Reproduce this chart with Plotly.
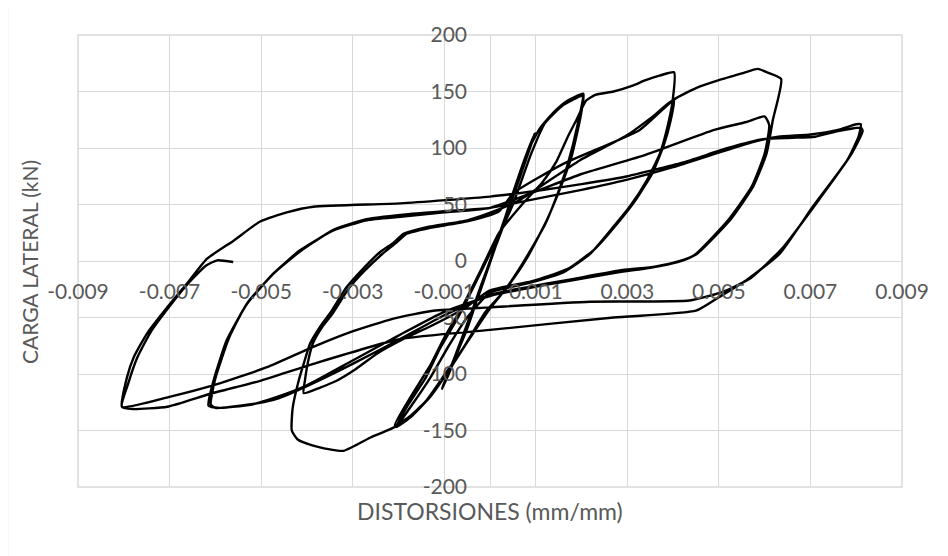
import plotly.graph_objects as go

# ---------------- data (strain in mm/mm, load in kN) ----------------
# cycle A : small cycles (+/-0.001)
strain_a = [0, 0.0003, 0.0006, 0.00098, 0.0008, 0.0005, 0.0002, -0.0002, -0.0006, -0.00105,
            -0.0009, -0.0006, -0.0002, 0.0002, 0.0006, 0.00096, 0.0007, 0.0003, -0.0001, -0.0005,
            -0.00102, -0.0008, -0.0004]
load_a = [0, 32, 70, 113, 95, 60, 22, -22, -68, -113,
          -100, -68, -25, 22, 68, 110, 80, 35, -12, -60,
          -110, -88, -45]

# cycle B : +/-0.002
strain_b = [0, 0.0004, 0.0008, 0.0011, 0.0014, 0.0017, 0.00204,
            0.00198, 0.00178, 0.00155, 0.00124, 0.0008, 0.0004, 0, -0.0005, -0.0009, -0.0013, -0.0017, -0.00205,
            -0.0018, -0.0014, -0.0011, -0.0007, -0.0003, 0.0001, 0.0005, 0.0009, 0.0012, 0.0016, 0.00202,
            0.00192, 0.0017, 0.0015, 0.0012, 0.0007, 0.0003, -0.0001, -0.0006, -0.001, -0.0014, -0.0018, -0.00208,
            -0.0017, -0.0013, -0.001, -0.0006, -0.0002, 0.0002]
load_b = [0, 45, 95, 118, 132, 142, 148,
          128, 92, 66, 36, 2, -22, -42, -72, -97, -120, -137, -147,
          -128, -103, -78, -50, -18, 15, 50, 95, 122, 138, 146,
          122, 86, 62, 32, -3, -27, -45, -78, -101, -124, -139, -145,
          -118, -92, -68, -40, -8, 25]

# cycle C : +/-0.004
strain_c = [0.0007, 0.00115, 0.00145, 0.0017, 0.00189, 0.0021, 0.0023, 0.0027, 0.0031, 0.0034, 0.0037, 0.00402,
            0.00399, 0.00386, 0.00371, 0.00342, 0.00305, 0.00269, 0.00218, 0.0016, 0.0008, 0,
            -0.0005, -0.0009, -0.0013, -0.0017, -0.00205, -0.0026, -0.0032, -0.0036, -0.0039, -0.0042, -0.00433,
            -0.00431, -0.00418, -0.00407, -0.00393, -0.00371, -0.00349, -0.00313, -0.0028, -0.0024, -0.00211,
            -0.00189, -0.00138, -0.0005, 0.00015,
            0.00065, 0.00196, 0.00298, 0.00356, 0.00402,
            0.00395, 0.0038, 0.00355, 0.0032, 0.0028, 0.0023, 0.0017, 0.0009, 0,
            -0.0006, -0.00131, -0.00189, -0.00247, -0.00298, -0.00335, -0.00371, -0.00407,
            -0.00404, -0.00398, -0.00387, -0.00366, -0.00343, -0.00308, -0.00275, -0.00236, -0.00205,
            -0.00183, -0.00135, -0.0005, 0.0002]
load_c = [50, 70, 88, 110, 125, 142, 147, 150, 155, 160, 164, 167,
          142, 116, 95, 71, 48, 30, 6, -10, -20, -28,
          -50, -75, -103, -127, -146, -156, -168, -166, -163, -158, -150,
          -130, -106, -91, -73, -58, -46, -23, -8, 8, 16,
          24, 30, 36, 45,
          54, 89, 111, 128, 143,
          125, 103, 78, 55, 34, 11, -7, -18, -26,
          -43, -58, -69, -82, -97, -106, -112, -117,
          -105, -90, -73, -58, -46, -24, -9, 6, 16,
          24, 29, 35, 44]

# cycle D : +/-0.006
strain_d = [0.00051, 0.0016, 0.00327, 0.00402, 0.0045, 0.005, 0.0055, 0.00585, 0.00605, 0.00636,
            0.00618, 0.00604, 0.00575, 0.00524, 0.00451, 0.00415, 0.0036, 0.0029, 0.0018, 0.0007, 0,
            -0.001, -0.002, -0.003, -0.00407, -0.00466, -0.00509, -0.0059, -0.00615,
            -0.00604, -0.00575, -0.00531, -0.00473, -0.00415, -0.00342, -0.00269, -0.00196, -0.001, 0,
            0.002, 0.0034, 0.0049, 0.0056, 0.006,
            0.0061, 0.006, 0.00572, 0.0052, 0.00446, 0.0041, 0.0035, 0.0028, 0.0018, 0.0007, 0,
            -0.001, -0.002, -0.003, -0.004, -0.0047, -0.0052, -0.006, -0.0061,
            -0.006, -0.0057, -0.0053, -0.0047, -0.0041, -0.0034, -0.0027, -0.0019, -0.001, 0]
load_d = [60, 86, 116, 143, 153, 160, 166, 170, 167, 161,
          125, 95, 66, 36, 6, 0, -5, -8, -16, -24, -30,
          -48, -70, -91, -112, -122, -126, -130, -128,
          -106, -70, -38, -11, 9.5, 27, 36, 39, 43, 47,
          77, 94, 116, 123, 128,
          120, 95, 66, 36, 5, -1, -6, -10, -17, -25, -31,
          -45, -66, -88, -110, -121, -127, -130, -127,
          -104, -68, -37, -10, 10, 28, 37, 41, 44, 47]

# cycle E : +/-0.008 and final unloading
strain_e = [0.001, 0.002, 0.003, 0.004, 0.005, 0.0058, 0.0063, 0.007, 0.0076, 0.008, 0.0081,
            0.00805, 0.0078, 0.00705, 0.00633, 0.0056, 0.005, 0.0045,
            0.0027, 0, -0.00196, -0.00386, -0.00502, -0.00611, -0.00705, -0.0078, -0.00804,
            -0.00793, -0.00778, -0.00749, -0.00705, -0.00662, -0.00618, -0.0056, -0.00502, -0.00444,
            -0.00386, -0.00196, 0,
            0.001, 0.002, 0.003, 0.0042, 0.0052, 0.006, 0.0066, 0.0071, 0.0076, 0.0081, 0.00814,
            0.0079, 0.0072, 0.0064, 0.0057, 0.0051, 0.00436,
            0.00218, 0, -0.00124, -0.00211, -0.00305, -0.00386, -0.00487, -0.00596, -0.00698, -0.00804,
            -0.0079, -0.0077, -0.0074, -0.007, -0.0066, -0.0062, -0.00596, -0.00561]
load_e = [55, 63, 72, 83, 96, 106, 110, 112, 116, 121, 121,
          110, 89, 48, 6.5, -17, -32, -44,
          -50, -61, -69, -91, -106, -117.5, -129, -131, -129,
          -103, -85, -64, -41, -20, 2, 18, 35, 43,
          48, 51, 57,
          62, 68, 75, 87, 100, 108, 109, 110, 115, 118, 115,
          95, 55, 12, -15, -27, -35,
          -36, -41, -44, -51, -63, -76, -94, -109, -120, -129,
          -108, -85, -62, -40, -20, -4, 0.6, -0.9]

strain = strain_a + strain_b + strain_c + strain_d + strain_e
load = load_a + load_b + load_c + load_d + load_e

x_ticks = [-0.009, -0.007, -0.005, -0.003, -0.001, 0.001, 0.003, 0.005, 0.007, 0.009]
x_tick_text = ["-0.009", "-0.007", "-0.005", "-0.003", "-0.001", "0.001", "0.003", "0.005", "0.007", "0.009"]
y_ticks = [-200, -150, -100, -50, 0, 50, 100, 150, 200]
y_tick_text = ["-200", "-150", "-100", "-50", "0", "50", "100", "150", "200"]

GRID = "#d9d9d9"
TXT = "#595959"
FONT = "Lato, 'Open Sans', sans-serif"

fig = go.Figure()
fig.add_trace(go.Scatter(x=strain, y=load, mode="lines",
                         line=dict(color="black", width=2.4, shape="spline", smoothing=0.5),
                         showlegend=False, hoverinfo="skip"))

fig.update_layout(
    width=948, height=556,
    margin=dict(l=70, r=54, t=27, b=77, autoexpand=False),
    paper_bgcolor="white", plot_bgcolor="white",
    font=dict(family=FONT, size=21, color=TXT),
    xaxis=dict(range=[-0.009, 0.009], tickvals=x_ticks, ticktext=x_tick_text,
               showgrid=True, gridcolor=GRID, gridwidth=1.3,
               zeroline=True, zerolinecolor=GRID, zerolinewidth=1.3,
               showline=False, ticks="", anchor="free", position=0.5, automargin=False,
               ticklabelstandoff=16, tickfont=dict(size=21, color=TXT)),
    yaxis=dict(range=[-200, 200], tickvals=y_ticks, ticktext=y_tick_text,
               showgrid=True, gridcolor=GRID, gridwidth=1.3,
               zeroline=True, zerolinecolor=GRID, zerolinewidth=1.3,
               showline=False, ticks="", anchor="free", position=0.5, automargin=False,
               ticklabelstandoff=23, tickfont=dict(size=21, color=TXT)),
    shapes=[
        dict(type="rect", xref="paper", yref="paper", x0=0, x1=1, y0=0, y1=1,
             line=dict(color=GRID, width=1.5), layer="below"),
        dict(type="rect", xref="paper", yref="paper", x0=-0.0856, x1=1.3, y0=-0.5, y1=1.065,
             line=dict(color=GRID, width=1.5), layer="below"),
    ],
    annotations=[
        dict(text="DISTORSIONES (mm/mm)", xref="paper", yref="paper", x=0.5, y=-0.053,
             showarrow=False, font=dict(size=23, color=TXT, family=FONT),
             xanchor="center", yanchor="middle"),
        dict(text="CARGA LATERAL (kN)", xref="paper", yref="paper", x=-0.058, y=0.498,
             showarrow=False, textangle=-90, font=dict(size=21, color=TXT, family=FONT),
             xanchor="center", yanchor="middle"),
    ],
)

fig.write_html("out.html")
